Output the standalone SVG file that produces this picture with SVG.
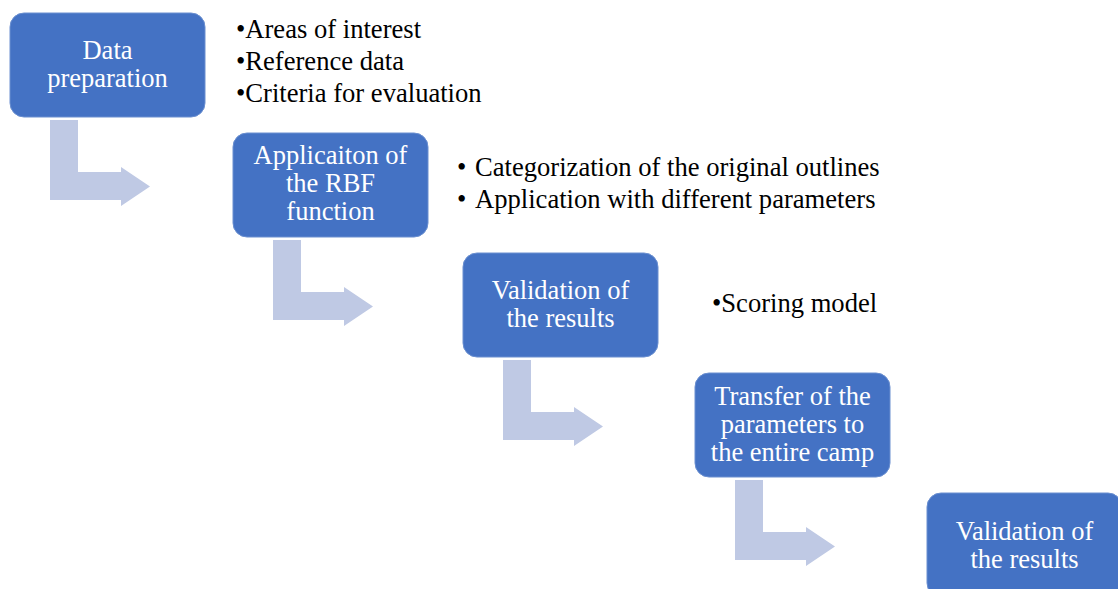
<svg xmlns="http://www.w3.org/2000/svg" width="1118" height="589" viewBox="0 0 1118 589">
<defs>
<style>
.box{fill:#4472C4;stroke:#6A8FD0;stroke-width:1}
.bt{font-size:26.5px;fill:#FFFFFF;text-anchor:middle}
.li{font-size:26.6px;fill:#000000}
.arr{fill:#BFC9E4}
</style>
</defs>
<rect width="1118" height="589" fill="#FFFFFF"/>
<g font-family="'Liberation Serif', Tinos, 'Times New Roman', Times, serif">
<g id="connectors">
<path class="arr" d="M50,120 H78 V172 H121 V167 L150,186.5 L121,206 V200 H50 Z"/>
<path class="arr" d="M273,240 H301 V292 H344 V287 L373,306.5 L344,326 V320 H273 Z"/>
<path class="arr" d="M503,360 H531 V412 H574 V407 L603,426.5 L574,446 V440 H503 Z"/>
<path class="arr" d="M735,480 H763 V532 H806 V527 L835,546.5 L806,566 V560 H735 Z"/>
</g>
<g id="node1">
<rect class="box" x="10" y="13" width="195" height="104" rx="14"/>
<text class="bt"><tspan x="107.5" y="58.5">Data</tspan><tspan x="107.5" y="86.5">preparation</tspan></text>
</g>
<g id="list1">
<text class="li"><tspan x="236" y="38">•Areas of interest</tspan><tspan x="236" y="70">•Reference data</tspan><tspan x="236" y="102">•Criteria for evaluation</tspan></text>
</g>
<g id="node2">
<rect class="box" x="233" y="133" width="195" height="104" rx="14"/>
<text class="bt"><tspan x="330.5" y="164">Applicaiton of</tspan><tspan x="330.5" y="192">the RBF</tspan><tspan x="330.5" y="220">function</tspan></text>
</g>
<g id="list2">
<text class="li"><tspan x="457" y="176">•</tspan><tspan x="475" y="176">Categorization of the original outlines</tspan><tspan x="457" y="208">•</tspan><tspan x="475" y="208">Application with different parameters</tspan></text>
</g>
<g id="node3">
<rect class="box" x="463" y="253" width="195" height="104" rx="14"/>
<text class="bt"><tspan x="560.5" y="298.5">Validation of</tspan><tspan x="560.5" y="326.5">the results</tspan></text>
</g>
<g id="list3">
<text class="li" x="712" y="312">•Scoring model</text>
</g>
<g id="node4">
<rect class="box" x="695" y="373" width="195" height="104" rx="14"/>
<text class="bt"><tspan x="792.5" y="404.5">Transfer of the</tspan><tspan x="792.5" y="432.5">parameters to</tspan><tspan x="792.5" y="460.5">the entire camp</tspan></text>
</g>
<g id="node5">
<rect class="box" x="927" y="493" width="195" height="104" rx="14"/>
<text class="bt"><tspan x="1024.5" y="539.5">Validation of</tspan><tspan x="1024.5" y="567.5">the results</tspan></text>
</g>
</g>
</svg>
